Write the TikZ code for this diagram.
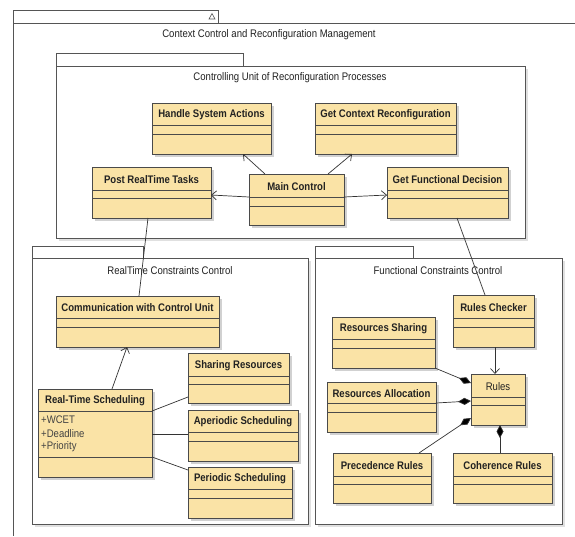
\documentclass[tikz,border=0pt]{standalone}
\usepackage{fontspec}
\setmainfont{Liberation Sans}[FakeStretch=0.87]
\usetikzlibrary{arrows.meta,shadows,calc}
\definecolor{clsfill}{HTML}{FAE3A6}
\definecolor{clsline}{HTML}{4A4A4A}
\definecolor{pkgline}{HTML}{555555}
\definecolor{txt}{HTML}{222222}
\tikzset{
  cls/.style={draw=clsline, fill=clsfill, line width=0.9pt, anchor=north west,
    inner sep=0pt, outer sep=0pt,
    drop shadow={shadow xshift=2.5pt, shadow yshift=-2.5pt, fill=black!18, opacity=1}},
  clsl/.style={draw=clsline, line width=0.9pt},
  clstitle/.style={font=\fontsize{11}{13}\selectfont\bfseries, text=txt, inner sep=0pt},
  clstitlereg/.style={font=\fontsize{11}{13}\selectfont, text=txt, inner sep=0pt},
  attr/.style={font=\fontsize{11}{13}\selectfont, text=txt!85, inner sep=0pt, anchor=west},
  pkg/.style={draw=pkgline, line width=0.9pt, fill=white},
  pkgtitle/.style={font=\fontsize{11}{13}\selectfont, text=txt, inner sep=0pt},
  assoc/.style={draw=black!80, line width=0.7pt},
  nav/.style={assoc, -{Straight Barb[length=5pt,width=9pt]}},
  comp/.style={assoc, -{Diamond[length=13pt,width=7pt,fill=black]}},
}
% name, x1, y1, x2, y2, l1, l2, title, style
\newcommand\mkcls[9]{%
  \node[cls, minimum width={(#4-#2)*1pt}, minimum height={(#5-#3)*1pt}] (#1) at (#2,#3) {};
  \draw[clsl] (#2,#6) -- (#4,#6);
  \draw[clsl] (#2,#7) -- (#4,#7);
  \node[#9] (#1-t) at ({(#2+#4)/2},{(#3+#6)/2+1}) {#8};
}
\begin{document}
\begin{tikzpicture}[x=1pt,y=-1pt]
\useasboundingbox (0,0) rectangle (575,536);
\fill[white] (0,0) rectangle (575,536);

% outer package
\draw[pkg] (13,10) rectangle (218,23);
\draw[pkgline, line width=0.9pt] (575,23) -- (13,23) -- (13,536);
\draw[pkgline, line width=0.6pt] (209,19) -- (215,19) -- (212,13.5) -- cycle;
\node[pkgtitle] (outerT) at (269,35) {Context Control and Reconfiguration Management};

% controlling unit package
\fill[black!12] (59,69) rectangle (528,241);
\draw[pkg] (56,53) rectangle (243,66);
\draw[pkg] (56,66) rectangle (525,238);
\node[pkgtitle] (cuT) at (290,78) {Controlling Unit of Reconfiguration Processes};

% realtime package
\fill[black!12] (35,261) rectangle (311,527);
\draw[pkg] (32,246) rectangle (143,258);
\draw[pkg] (32,258) rectangle (308,524);
\node[pkgtitle] (rtT) at (170,271) {RealTime Constraints Control};

% functional package
\fill[black!12] (318,261) rectangle (565,527);
\draw[pkg] (315,246) rectangle (413,258);
\draw[pkg] (315,258) rectangle (562,524);
\node[pkgtitle] (fcT) at (438,271) {Functional Constraints Control};

% classes: controlling unit
\mkcls{hsa}{152}{103}{271}{154}{125}{134}{Handle System Actions}{clstitle}
\mkcls{gcr}{315}{103}{456}{154}{125}{134}{Get Context Reconfiguration}{clstitle}
\mkcls{prt}{92}{167}{211}{218}{190}{198}{Post RealTime Tasks}{clstitle}
\mkcls{main}{249}{174}{344}{225}{197}{206}{Main Control}{clstitle}
\mkcls{gfd}{387}{167}{508}{218}{190}{198}{Get Functional Decision}{clstitle}

% classes: realtime
\mkcls{ccu}{56}{296}{219}{347}{318}{327}{Communication with Control Unit}{clstitle}
\mkcls{shr}{188}{353}{289}{403}{376}{384}{Sharing Resources}{clstitle}
\mkcls{rts}{38}{389}{152}{477}{411}{457}{Real-Time Scheduling}{clstitle}
\mkcls{aps}{188}{410}{298}{461}{432}{441}{Aperiodic Scheduling}{clstitle}
\mkcls{pes}{188}{467}{292}{518}{489}{498}{Periodic Scheduling}{clstitle}
\node[attr] (a1) at (41,420) {+WCET};
\node[attr] (a2) at (41,433.5) {+Deadline};
\node[attr] (a3) at (41,447) {+Priority};

% classes: functional
\mkcls{rc}{453}{295}{534}{347}{318}{327}{Rules Checker}{clstitle}
\mkcls{rsh}{332}{317}{435}{368}{339}{348}{Resources Sharing}{clstitle}
\mkcls{rules}{471}{374}{525}{425}{397}{405}{Rules}{clstitlereg}
\mkcls{ra}{327}{382}{436}{432}{403}{412}{Resources Allocation}{clstitle}
\mkcls{prec}{333}{453}{431}{503}{476}{484}{Precedence Rules}{clstitle}
\mkcls{coh}{453}{453}{552}{503}{476}{484}{Coherence Rules}{clstitle}

% connectors: controlling unit
\draw[nav] ([xshift=16pt]main.north west) -- ([xshift=91pt]hsa.south west);
\draw[nav] ([xshift=79pt]main.north west) -- ([xshift=37pt]gcr.south west);
\draw[nav] ([yshift=-23pt]main.north west) -- ([yshift=-28pt]prt.north east);
\draw[nav] ([yshift=-23pt]main.north east) -- ([yshift=-28pt]gfd.north west);
\draw[assoc] ([xshift=56pt]prt.south west) -- ([xshift=83pt]ccu.north west);
\draw[assoc] ([xshift=70pt]gfd.south west) -- ([xshift=32pt]rc.north west);

% connectors: realtime
\draw[nav] ([xshift=74pt]rts.north west) -- ([xshift=71pt]ccu.south west);
\draw[assoc] ([yshift=-22pt]rts.north east) -- ([yshift=6pt]shr.south west);
\draw[assoc] ([yshift=-45pt]rts.north east) -- ([yshift=-24pt]aps.north west);
\draw[assoc] ([yshift=-68pt]rts.north east) -- ([yshift=-3pt]pes.north west);

% connectors: functional
\draw[nav] ([xshift=42pt]rc.south west) -- ([xshift=24pt]rules.north west);
\draw[comp] (rsh.south east) -- ([yshift=-9pt]rules.north west);
\draw[comp] ([yshift=-21pt]ra.north east) -- ([yshift=-27pt]rules.north west);
\draw[comp] ([xshift=86pt]prec.north west) -- ([yshift=7pt]rules.south west);
\draw[comp] ([xshift=47pt]coh.north west) -- ([xshift=29pt]rules.south west);
\end{tikzpicture}
\end{document}
